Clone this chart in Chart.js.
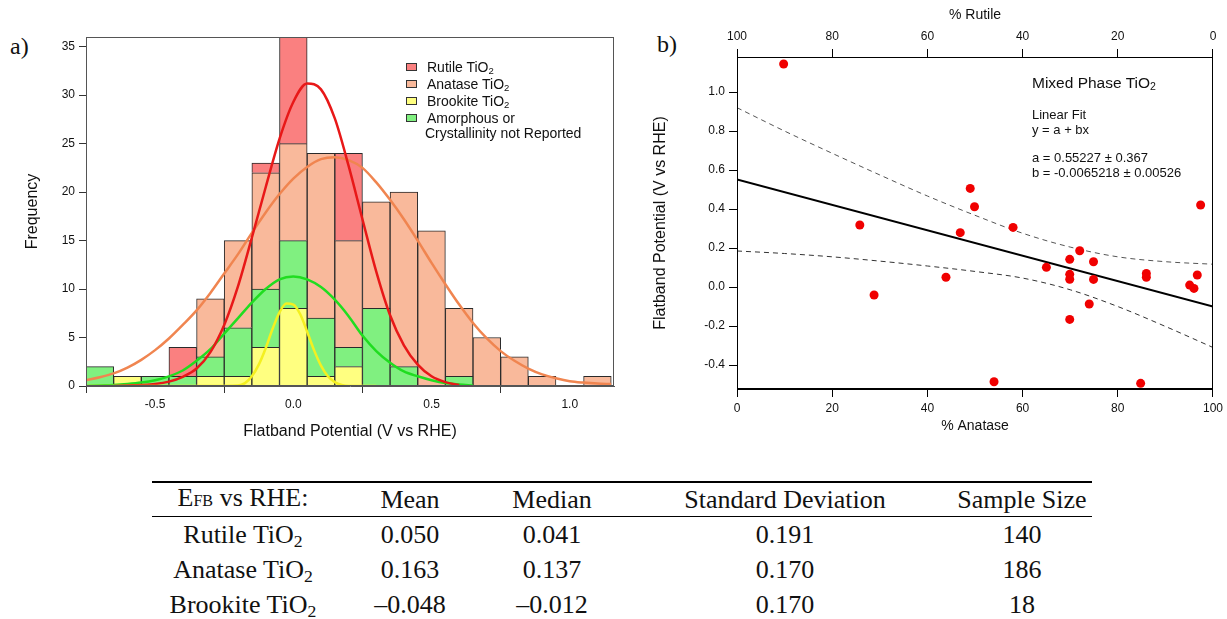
<!DOCTYPE html>
<html>
<head>
<meta charset="utf-8">
<script src="https://cdn.jsdelivr.net/npm/chart.js@4.4.1/dist/chart.umd.min.js"></script>
<style>
  body { margin: 0; width: 1227px; height: 619px; background: #fff; position: relative; overflow: hidden;
         font-family: "Liberation Sans", Arial, sans-serif; color: #111; }
  .abs { position: absolute; }
  #boxA { left: 0; top: 0; width: 630px; height: 450px; }
  #boxB { left: 640px; top: 0; width: 587px; height: 450px; }
  .panel { font-family: "Liberation Serif", "Times New Roman", serif; font-size: 24px; line-height: 24px; }
  .leg { font-size: 14px; line-height: 16px; white-space: nowrap; }
  .sw { width: 9px; height: 6px; border: 1px solid #333; }
  .note { left: 1032px; white-space: nowrap; font-size: 13px; line-height: 15px; }
  sub { font-size: 0.68em; line-height: 0; vertical-align: -0.22em; }
  table { border-collapse: collapse; font-family: "Liberation Serif", "Times New Roman", serif; font-size: 26px; }
  td { text-align: center; padding: 0; height: 35px; line-height: 28px; white-space: nowrap; }
  tr.head td { height: 33px; border-bottom: 1px solid #000; }
</style>
</head>
<body>
<div class="abs panel" style="left:10px; top:34px;">a)</div>
<div class="abs panel" style="left:657px; top:32px;">b)</div>

<div id="boxA" class="abs"><canvas id="histA"></canvas></div>
<div id="boxB" class="abs"><canvas id="fitB"></canvas></div>

<!-- legend of panel a -->
<div class="abs sw" style="left:406px; top:63px; background:#fa8080;"></div>
<div class="abs leg" style="left:427px; top:59px;">Rutile TiO<sub>2</sub></div>
<div class="abs sw" style="left:406px; top:80px; background:#f9b99b;"></div>
<div class="abs leg" style="left:427px; top:76px;">Anatase TiO<sub>2</sub></div>
<div class="abs sw" style="left:406px; top:97px; background:#ffff80;"></div>
<div class="abs leg" style="left:427px; top:93px;">Brookite TiO<sub>2</sub></div>
<div class="abs sw" style="left:406px; top:114px; background:#80f080;"></div>
<div class="abs leg" style="left:427px; top:110px;">Amorphous or</div>
<div class="abs leg" style="left:425px; top:125px;">Crystallinity not Reported</div>

<!-- fit notes of panel b -->
<div class="abs note" style="top:74px; font-size:15.5px; line-height:18px;">Mixed Phase TiO<sub>2</sub></div>
<div class="abs note" style="top:107px;">Linear Fit</div>
<div class="abs note" style="top:122px;">y = a + bx</div>
<div class="abs note" style="top:150px;">a = 0.55227 ± 0.367</div>
<div class="abs note" style="top:165px;">b = -0.0065218 ± 0.00526</div>

<table class="abs" style="left:152px; top:481px; width:940px; border-top:2px solid #000;">
  <colgroup><col style="width:182px"><col style="width:152px"><col style="width:132px"><col style="width:334px"><col style="width:140px"></colgroup>
  <tr class="head"><td>E<span style="font-size:0.62em">FB</span> vs RHE:</td><td>Mean</td><td>Median</td><td>Standard Deviation</td><td>Sample Size</td></tr>
  <tr><td>Rutile TiO<sub>2</sub></td><td>0.050</td><td>0.041</td><td>0.191</td><td>140</td></tr>
  <tr><td>Anatase TiO<sub>2</sub></td><td>0.163</td><td>0.137</td><td>0.170</td><td>186</td></tr>
  <tr><td>Brookite TiO<sub>2</sub></td><td>–0.048</td><td>–0.012</td><td>0.170</td><td>18</td></tr>
</table>

<script>
// ---- panel a: histogram (bin centres, V vs RHE; stacked segment counts) ----
const binCenters = [-0.7, -0.6, -0.5, -0.4, -0.3, -0.2, -0.1, 0.0, 0.1, 0.2, 0.3, 0.4, 0.5, 0.6, 0.7, 0.8, 0.9, 1.0, 1.1];
const brookiteCounts  = [0, 1, 0, 0, 1, 1, 4, 8, 1, 2, 0, 0, 0, 0, 0, 0, 0, 0, 0];
const amorphousCounts = [2, 0, 1, 1, 2, 5, 6, 7, 6, 2, 8, 2, 0, 1, 0, 0, 0, 0, 0];
const anataseCounts   = [0, 0, 0, 0, 6, 9, 12, 10, 17, 11, 11, 18, 16, 7, 5, 3, 1, 0, 1];
const rutileCounts    = [0, 0, 0, 3, 0, 0, 1, 11, 0, 9, 0, 0, 0, 0, 0, 0, 0, 0, 0];

// fitted curves
const rutileCurveX = [-0.65, -0.6, -0.55, -0.5, -0.45, -0.4, -0.35, -0.3, -0.25, -0.2, -0.15, -0.1, -0.05, 0.0,
  0.05, 0.1, 0.15, 0.2, 0.25, 0.3, 0.35, 0.4, 0.45, 0.5, 0.55, 0.6];
const rutileCurveY = [0, 0.05, 0.1, 0.2, 0.45, 0.95, 1.8, 3.5, 6.3, 10.3, 15.3, 20.5, 25.5, 29.3,
  31.2, 30.6, 27.6, 22.7, 17.2, 11.8, 7.3, 4.2, 2.2, 1.0, 0.4, 0.1];
const anataseCurveX = [-0.75, -0.7, -0.65, -0.6, -0.55, -0.5, -0.45, -0.4, -0.35, -0.3, -0.25, -0.2, -0.15, -0.1, -0.05,
  0.0, 0.05, 0.1, 0.15, 0.2, 0.25, 0.3, 0.35, 0.4, 0.45, 0.5, 0.55, 0.6, 0.65, 0.7, 0.75, 0.8, 0.85, 0.9, 0.95,
  1.0, 1.05, 1.1, 1.15];
const anataseCurveY = [0.6, 0.9, 1.3, 1.9, 2.7, 3.7, 4.9, 6.3, 7.8, 9.6, 11.6, 13.6, 15.8, 17.9, 19.8,
  21.4, 22.6, 23.4, 23.6, 23.3, 22.5, 21.0, 19.2, 17.2, 15.0, 12.7, 10.5, 8.4, 6.5, 4.9, 3.6, 2.6, 1.8, 1.2, 0.8,
  0.5, 0.35, 0.25, 0.2];
const amorphousCurveX = [-0.75, -0.7, -0.65, -0.6, -0.55, -0.5, -0.45, -0.4, -0.35, -0.3, -0.25, -0.2, -0.15, -0.1, -0.05,
  0.0, 0.05, 0.1, 0.15, 0.2, 0.25, 0.3, 0.35, 0.4, 0.45, 0.5, 0.55, 0.6, 0.65];
const amorphousCurveY = [0, 0.05, 0.1, 0.2, 0.35, 0.6, 1.0, 1.6, 2.6, 3.8, 5.4, 7.0, 8.6, 10.0, 11.0,
  11.3, 11.0, 10.2, 8.9, 7.2, 5.2, 3.6, 2.4, 1.5, 1.0, 0.6, 0.3, 0.15, 0.05];
const brookiteCurveX = [-0.75, -0.5, -0.3, -0.2, -0.175, -0.15, -0.125, -0.1, -0.075, -0.05, -0.025, 0.0,
  0.025, 0.05, 0.075, 0.1, 0.125, 0.15, 0.175, 0.2, 0.25, 0.3];
const brookiteCurveY = [0, 0, 0, 0.05, 0.3, 1.0, 2.2, 3.9, 5.9, 7.6, 8.5, 8.4,
  7.4, 5.6, 3.7, 2.1, 1.0, 0.4, 0.1, 0, 0, 0];

// ---- panel b: mixed phase scatter ----
const anatasePct = [9.8, 25.8, 28.8, 43.9, 46.9, 49.0, 49.9, 54.0, 58.0, 65.0, 69.9, 69.9, 69.9, 69.9, 72.0,
  74.0, 74.9, 74.9, 84.8, 86.0, 86.0, 95.1, 96.0, 96.7, 97.4];
const flatbandV = [1.144, 0.318, -0.041, 0.050, 0.279, 0.506, 0.412, -0.486, 0.306, 0.101, 0.142, 0.065, 0.040, -0.166, 0.186,
  -0.087, 0.130, 0.039, -0.494, 0.070, 0.050, 0.010, -0.007, 0.062, 0.421];
const fitX = [0, 100];
const fitY = [0.552, -0.100];
const bandX = [0, 10, 20, 30, 40, 50, 60, 70, 80, 90, 100];
const bandUpper = [0.920, 0.800, 0.686, 0.575, 0.467, 0.368, 0.276, 0.205, 0.155, 0.130, 0.117];
const bandLower = [0.185, 0.172, 0.155, 0.133, 0.108, 0.080, 0.046, -0.014, -0.100, -0.202, -0.310];

const xy = (xs, ys) => xs.map((x, i) => ({x: x, y: ys[i]}));
const bars = (ys) => binCenters.map((x, i) => ({x: x, y: ys[i] === 0 ? null : ys[i]}));

// full box round the plot area
const framePlugin = {
  id: 'frame',
  afterDatasetsDraw(chart, args, opts) {
    const {ctx, chartArea: a} = chart;
    ctx.save();
    ctx.strokeStyle = opts.color || '#000';
    ctx.lineWidth = 1;
    ctx.strokeRect(Math.round(a.left) + 0.5, Math.round(a.top) + 0.5,
      Math.round(a.right - a.left) - 1, Math.round(a.bottom - a.top) - 1);
    ctx.restore();
  }
};

const fam = '"Liberation Sans", Arial, sans-serif';
const tickFont = {family: fam, size: 12};

function barSet(label, ys, color) {
  return {type: 'bar', label: label, data: bars(ys), backgroundColor: color, borderColor: '#2a2a2a',
    borderWidth: 1, borderSkipped: 'start', stack: 'h', order: 10, barPercentage: 1, categoryPercentage: 1};
}
function curveSet(label, xs, ys, color, order) {
  return {type: 'line', label: label, data: xy(xs, ys), borderColor: color, borderWidth: 2.5,
    pointRadius: 0, fill: false, cubicInterpolationMode: 'monotone', order: order};
}

new Chart(document.getElementById('histA'), {
  type: 'bar',
  data: {
    datasets: [
      barSet('Brookite TiO2', brookiteCounts, '#ffff80'),
      barSet('Amorphous', amorphousCounts, '#80f080'),
      barSet('Anatase TiO2', anataseCounts, '#f9b99b'),
      barSet('Rutile TiO2', rutileCounts, '#fa8080'),
      curveSet('Brookite fit', brookiteCurveX, brookiteCurveY, '#f4f020', 0),
      curveSet('Rutile fit', rutileCurveX, rutileCurveY, '#e81818', 1),
      curveSet('Amorphous fit', amorphousCurveX, amorphousCurveY, '#20dd20', 2),
      curveSet('Anatase fit', anataseCurveX, anataseCurveY, '#f08550', 3)
    ]
  },
  options: {
    responsive: true, maintainAspectRatio: false, animation: false,
    layout: {padding: {top: 37, right: 16, left: 0, bottom: 0}},
    plugins: {legend: {display: false}, tooltip: {enabled: false}, frame: {color: '#555'}},
    scales: {
      x: {
        type: 'linear', min: -0.75, max: 1.16, offset: false,
        grid: {drawOnChartArea: false, tickLength: 7, color: '#333'},
        border: {color: '#555'},
        ticks: {stepSize: 0.5, includeBounds: false, padding: 4, color: '#111', font: tickFont,
          callback: (v) => v.toFixed(1)},
        title: {display: true, text: 'Flatband Potential (V vs RHE)', color: '#111', font: {family: fam, size: 16},
          padding: {top: 0, bottom: 9}},
        afterFit: (s) => { s.height = 64; }
      },
      y: {
        min: 0, max: 36,
        grid: {drawOnChartArea: false, tickLength: 7, color: '#333'},
        border: {color: '#555'},
        ticks: {stepSize: 5, includeBounds: false, padding: 4, color: '#111', font: tickFont},
        title: {display: true, text: 'Frequency', color: '#111', font: {family: fam, size: 16},
          padding: {top: 23, bottom: 0}},
        afterFit: (s) => { s.width = 86; }
      }
    }
  },
  plugins: [framePlugin]
});

new Chart(document.getElementById('fitB'), {
  type: 'scatter',
  data: {
    datasets: [
      {label: 'Mixed Phase TiO2', data: xy(anatasePct, flatbandV), backgroundColor: '#f00000',
        borderWidth: 0, pointRadius: 4.5, order: 0},
      {type: 'line', label: 'Linear Fit', data: xy(fitX, fitY), borderColor: '#000', borderWidth: 2,
        pointRadius: 0, fill: false, order: 1},
      {type: 'line', label: 'upper', data: xy(bandX, bandUpper), borderColor: '#555', borderWidth: 1,
        borderDash: [5, 4], pointRadius: 0, fill: false, cubicInterpolationMode: 'monotone', order: 2},
      {type: 'line', label: 'lower', data: xy(bandX, bandLower), borderColor: '#333', borderWidth: 1,
        borderDash: [5, 4], pointRadius: 0, fill: false, cubicInterpolationMode: 'monotone', order: 2}
    ]
  },
  options: {
    responsive: true, maintainAspectRatio: false, animation: false,
    layout: {padding: {top: 0, right: 11, left: 0, bottom: 0}},
    plugins: {legend: {display: false}, tooltip: {enabled: false}, frame: {color: '#000'}},
    scales: {
      x: {
        type: 'linear', position: 'bottom', min: 0, max: 100,
        grid: {drawOnChartArea: false, tickLength: 8, color: '#000'},
        border: {color: '#000'},
        ticks: {stepSize: 20, padding: 4, color: '#111', font: tickFont},
        title: {display: true, text: '% Anatase', color: '#111', font: {family: fam, size: 14},
          padding: {top: 0, bottom: 15}},
        afterFit: (s) => { s.height = 61; }
      },
      x2: {
        type: 'linear', position: 'top', min: 0, max: 100, reverse: true,
        grid: {drawOnChartArea: false, tickLength: 8, color: '#000'},
        border: {color: '#000'},
        ticks: {stepSize: 20, padding: 5, color: '#111', font: tickFont},
        title: {display: true, text: '% Rutile', color: '#111', font: {family: fam, size: 14},
          padding: {top: 7, bottom: 0}},
        afterFit: (s) => { s.height = 57; }
      },
      y: {
        min: -0.523, max: 1.18,
        grid: {drawOnChartArea: false, tickLength: 8, color: '#000'},
        border: {color: '#000'},
        ticks: {stepSize: 0.2, includeBounds: false, padding: 4, color: '#111', font: tickFont,
          callback: (v) => v.toFixed(1)},
        title: {display: true, text: 'Flatband Potential (V vs RHE)', color: '#111', font: {family: fam, size: 16},
          padding: {top: 11, bottom: 0}},
        afterFit: (s) => { s.width = 97; }
      }
    }
  },
  plugins: [framePlugin]
});
</script>
</body>
</html>
